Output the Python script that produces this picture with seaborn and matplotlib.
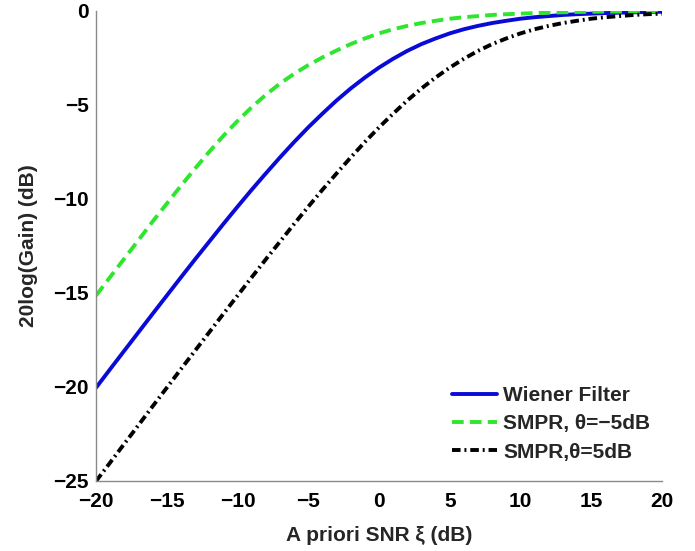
import numpy as np
import pandas as pd
import matplotlib
matplotlib.use("Agg")
import matplotlib.pyplot as plt
import seaborn as sns

# A priori SNR (dB)
snr_db = [-20, -19, -18, -17, -16, -15, -14, -13, -12, -11, -10, -9, -8, -7, -6,
          -5, -4, -3, -2, -1, 0, 1, 2, 3, 4, 5, 6, 7, 8, 9, 10, 11, 12, 13, 14,
          15, 16, 17, 18, 19, 20]

wiener = [-20.04, -19.05, -18.07, -17.09, -16.11, -15.14, -14.17, -13.21, -12.27,
          -11.33, -10.41, -9.51, -8.64, -7.79, -6.97, -6.19, -5.46, -4.76, -4.12,
          -3.54, -3.01, -2.54, -2.12, -1.76, -1.46, -1.19, -0.97, -0.79, -0.64,
          -0.52, -0.41, -0.33, -0.27, -0.21, -0.17, -0.14, -0.11, -0.09, -0.07,
          -0.05, -0.04]

smpr_m5 = [-15.14, -14.15, -13.17, -12.19, -11.2, -10.25, -9.3, -8.38, -7.49, -6.64,
           -5.85, -5.12, -4.46, -3.86, -3.34, -2.88, -2.47, -2.1, -1.76, -1.46,
           -1.19, -0.97, -0.79, -0.64, -0.52, -0.41, -0.33, -0.27, -0.21, -0.17,
           -0.14, -0.11, -0.09, -0.07, -0.05, -0.04, -0.03, -0.03, -0.02, -0.02,
           -0.01]

smpr_p5 = [-25.01, -24.02, -23.02, -22.03, -21.03, -20.04, -19.05, -18.07, -17.09,
           -16.11, -15.14, -14.17, -13.21, -12.27, -11.33, -10.41, -9.51, -8.64,
           -7.79, -6.97, -6.19, -5.46, -4.76, -4.12, -3.54, -3.01, -2.54, -2.12,
           -1.76, -1.46, -1.19, -0.97, -0.79, -0.64, -0.52, -0.41, -0.33, -0.27,
           -0.21, -0.17, -0.14]

labels = ["Wiener Filter", "SMPR, θ=\u22125dB", "SMPR,θ=5dB"]
x_ticks = [-20, -15, -10, -5, 0, 5, 10, 15, 20]
y_ticks = [-25, -20, -15, -10, -5, 0]

sns.set_theme(style="white")
plt.rcParams['font.family'] = ['Liberation Sans', 'DejaVu Sans']
plt.rcParams['axes.unicode_minus'] = True

FS = 15

df = pd.DataFrame({
    "snr": snr_db * 3,
    "gain": wiener + smpr_m5 + smpr_p5,
    "curve": [labels[0]] * len(snr_db) + [labels[1]] * len(snr_db) + [labels[2]] * len(snr_db),
})

fig = plt.figure(figsize=(6.95, 5.51), dpi=100)
ax = fig.add_axes([96 / 695, 1 - 481 / 551, (662 - 96) / 695, (481 - 11) / 551])

palette = {labels[0]: "#0a0ad8", labels[1]: "#2ee62e", labels[2]: "#000000"}
dashes = {labels[0]: "", labels[1]: (3.0, 1.6), labels[2]: (2.2, 1.0, 0.5, 1.0)}

sns.lineplot(data=df, x="snr", y="gain", hue="curve", style="curve",
             palette=palette, dashes=dashes, linewidth=2.8, ax=ax,
             hue_order=labels, style_order=labels)

ax.set_xlim(-20, 20)
ax.set_ylim(-25, 0)
ax.set_xticks(x_ticks)
ax.set_yticks(y_ticks)
ax.set_xticklabels([str(v).replace("-", "\u2212") for v in x_ticks])
ax.set_yticklabels([str(v).replace("-", "\u2212") for v in y_ticks])

for s in ["top", "right"]:
    ax.spines[s].set_visible(False)
for s in ["left", "bottom"]:
    ax.spines[s].set_color("#8a8a8a")
    ax.spines[s].set_linewidth(1.0)

ax.tick_params(axis="both", direction="in", length=5, width=1.0, color="#8a8a8a",
               labelsize=FS, labelcolor="black")
ax.tick_params(axis="x", pad=8)
ax.tick_params(axis="y", pad=5)
for t in ax.get_xticklabels() + ax.get_yticklabels():
    t.set_fontweight("bold")

ax.set_xlabel("A priori SNR ξ (dB)", fontsize=FS, fontweight="bold", labelpad=11)
ax.set_ylabel("20log(Gain) (dB)", fontsize=FS, fontweight="bold", labelpad=11)

leg = ax.legend(loc="upper left", bbox_to_anchor=(452 / 695, 1 - 386 / 551),
                bbox_transform=fig.transFigure, frameon=False,
                borderpad=0, borderaxespad=0,
                handlelength=2.15, handletextpad=0.3, labelspacing=0.45,
                prop={"weight": "bold", "size": FS})
for line in leg.get_lines():
    line.set_linewidth(2.8)

fig.savefig("out.png", dpi=100)
